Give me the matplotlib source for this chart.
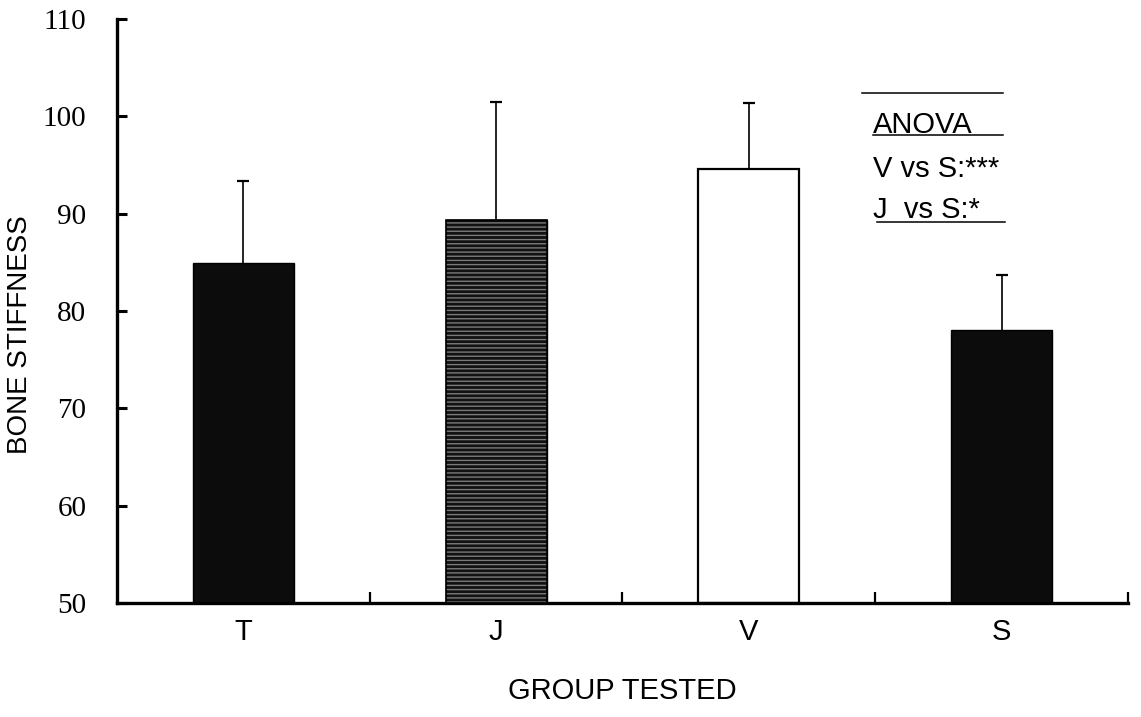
import numpy as np
import matplotlib
matplotlib.use("Agg")
import matplotlib.pyplot as plt

# values
groups = ["T", "J", "V", "S"]
means = [84.9, 89.3, 94.6, 78.0]
upper_err = [8.5, 12.2, 6.8, 5.7]
anova_lines = ["ANOVA", "V vs S:***", "J  vs S:*"]

plt.rcParams["hatch.linewidth"] = 1.0

fig = plt.figure(figsize=(11.41, 7.17), dpi=100)
ax = fig.add_axes([0.1025, 0.159, 0.886, 0.8145])

x = np.arange(len(groups))
width = 0.4
base = 50

# bar fills: speckled black, dark horizontal-lined, white, black
ax.bar(x[0], means[0] - base, width, bottom=base, color="#0c0c0c", edgecolor="black", linewidth=1, zorder=2)
ax.bar(x[1], means[1] - base, width, bottom=base, color="#111111", edgecolor="black", linewidth=1, zorder=2)
ax.bar(x[1], means[1] - base, width, bottom=base, facecolor="none", edgecolor="#7a7a7a",
       hatch="----", linewidth=0, zorder=3)
ax.bar(x[1], means[1] - base, width, bottom=base, facecolor="none", edgecolor="black", linewidth=1.2, zorder=4)
ax.bar(x[2], means[2] - base, width, bottom=base, color="white", edgecolor="black", linewidth=1.6, zorder=2)
ax.bar(x[3], means[3] - base, width, bottom=base, color="#0c0c0c", edgecolor="black", linewidth=1, zorder=2)

_, caps, _ = ax.errorbar(x, means, yerr=[np.zeros(len(groups)), upper_err], fmt="none",
                         ecolor="black", elinewidth=1.2, capsize=4, capthick=1.6, zorder=1)
caps[0].set_visible(False)  # only the upper cap is drawn in the original

ax.set_xlim(-0.5, 3.5)
ax.set_ylim(50, 110)
ax.set_yticks(np.arange(50, 111, 10))
ax.set_xticks(x)
ax.set_xticklabels(groups, family="Liberation Sans", fontsize=21)
ax.set_xticks(x + 0.5, minor=True)

for lab in ax.get_yticklabels():
    lab.set_family("Liberation Serif")
    lab.set_fontsize(21)

ax.tick_params(axis="x", which="major", length=0, pad=11)
ax.tick_params(axis="x", which="minor", direction="in", length=8, width=1.6)
ax.tick_params(axis="y", direction="in", length=7, width=2.2, pad=22)

for side in ["top", "right"]:
    ax.spines[side].set_visible(False)
for side in ["left", "bottom"]:
    ax.spines[side].set_linewidth(2.4)

ax.set_xlabel("GROUP TESTED", family="Liberation Sans", fontsize=21, labelpad=22)
ax.set_ylabel("BONE STIFFNESS", family="Liberation Sans", fontsize=20)
ax.yaxis.set_label_coords(-0.083, 0.46)

# ANOVA note with its rules
tx = 0.748
ax.plot([0.737, 0.876], [0.873, 0.873], transform=ax.transAxes, color="black", lw=1.1, clip_on=False)
ax.plot([0.748, 0.876], [0.801, 0.801], transform=ax.transAxes, color="black", lw=1.1, clip_on=False)
ax.plot([0.752, 0.878], [0.652, 0.652], transform=ax.transAxes, color="black", lw=1.1, clip_on=False)
for txt, ty in zip(anova_lines, [0.805, 0.729, 0.659]):
    ax.text(tx, ty, txt, transform=ax.transAxes, family="Liberation Sans", fontsize=21, va="baseline")

fig.savefig("out.png", dpi=100)
